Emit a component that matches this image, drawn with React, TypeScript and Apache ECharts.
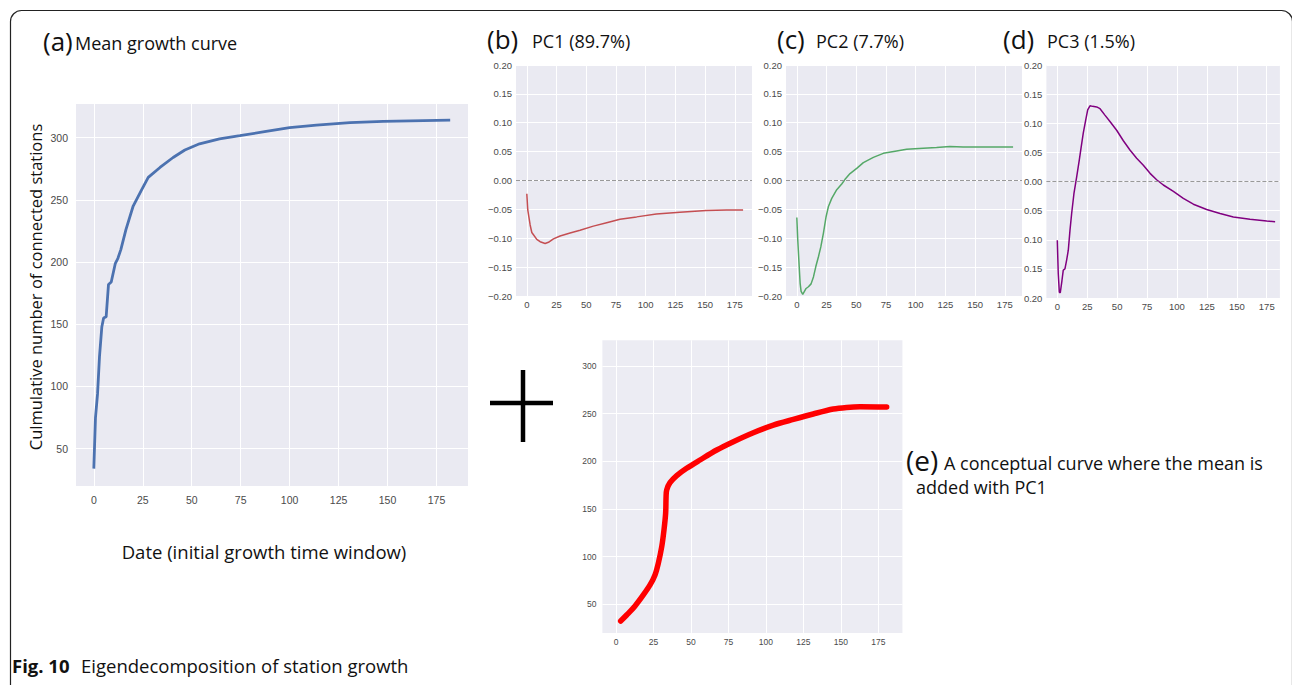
import React, { useEffect, useRef } from "react";
import * as echarts from "echarts";

// ---------- tick labels ----------
const TICK_X = [0, 25, 50, 75, 100, 125, 150, 175];
const TICK_COUNT = [50, 100, 150, 200, 250, 300];
const TICK_PC = [-0.2, -0.15, -0.1, -0.05, 0, 0.05, 0.1, 0.15, 0.2];

// ---------- (a) mean growth curve ----------
const meanX = [0, 0.85, 1.9, 2.9, 4.1, 5, 6.3, 7.5, 8.9, 11, 12.3, 13.8, 16.4, 20.1, 24.4, 27.8, 33.8, 40.5, 46.5, 54, 64.2, 74.6, 88, 100, 113.7, 130.8, 147.8, 182];
const meanY = [34, 75, 94, 124, 148, 155, 156, 182, 184, 199, 203, 210, 226, 245, 258, 268, 276, 284, 290, 295, 299, 301.5, 305, 308, 310, 312, 313, 314];

// ---------- (b) PC1 ----------
const pc1X = [0, 0.8, 2.8, 4.2, 5.6, 8.4, 11.2, 15.4, 18.2, 22.4, 28, 36.4, 44.8, 56, 67.2, 78.4, 92.4, 109, 128.8, 151, 168, 182];
const pc1Y = [-0.023, -0.051, -0.077, -0.09, -0.094, -0.102, -0.106, -0.109, -0.107, -0.101, -0.096, -0.091, -0.086, -0.079, -0.073, -0.067, -0.063, -0.058, -0.055, -0.052, -0.051, -0.051];

// ---------- (c) PC2 ----------
const pc2X = [0, 0.8, 2, 2.8, 3.6, 5, 6.4, 7.8, 9.8, 12, 14, 16, 18.2, 20.2, 22.4, 24.6, 26.6, 29.4, 33.6, 37.8, 40.6, 44.8, 50.4, 56, 64.4, 72.8, 84, 92.4, 106.4, 117.6, 128.8, 140, 156.8, 182];
const pc2Y = [-0.064, -0.103, -0.149, -0.178, -0.192, -0.197, -0.192, -0.187, -0.184, -0.179, -0.167, -0.149, -0.132, -0.115, -0.091, -0.063, -0.045, -0.031, -0.016, -0.006, 0.002, 0.012, 0.021, 0.031, 0.04, 0.047, 0.051, 0.054, 0.056, 0.057, 0.059, 0.058, 0.058, 0.058];

// ---------- (d) PC3 ----------
const pc3X = [0, 0.8, 1.7, 2.5, 3.9, 5, 6.4, 7.8, 9.2, 10.6, 12, 13.9, 16.2, 18.4, 19.8, 21.7, 23.7, 25.4, 27.3, 29.5, 32.9, 35.7, 39.8, 44, 49.6, 55.2, 60.7, 66.3, 71.9, 77.5, 83, 88.6, 97, 105.3, 113.7, 124.8, 136, 147.1, 161, 175, 182];
const pc3Y = [-0.101, -0.158, -0.19, -0.191, -0.17, -0.152, -0.15, -0.135, -0.118, -0.084, -0.055, -0.021, 0.008, 0.037, 0.057, 0.083, 0.105, 0.123, 0.13, 0.129, 0.128, 0.125, 0.114, 0.103, 0.088, 0.07, 0.054, 0.04, 0.028, 0.014, 0.003, -0.006, -0.017, -0.029, -0.039, -0.048, -0.055, -0.061, -0.065, -0.068, -0.069];

// ---------- (e) conceptual curve ----------
const conX = [3.1, 7.1, 12.7, 18.2, 22.7, 26, 28.2, 30.5, 32, 33.1, 33.4, 33.8, 36, 40.5, 47.1, 56, 67.2, 78.3, 91.6, 105, 118.3, 131.6, 145, 153.9, 162.8, 180.6];
const conY = [32.5, 38.8, 48.3, 59.8, 70.3, 80.8, 93, 110.5, 128, 145.5, 163, 170, 177.6, 185, 192.7, 201.4, 211.9, 220.6, 230, 238, 244, 249.7, 254.9, 256.6, 257.3, 257];

const zip = (xs: number[], ys: number[]) => xs.map((x, i) => [x, ys[i]]);

const BG = "#EAEAF2";
const LABEL_COLOR = "#4a4a4a";
const TICK_FONT = "Liberation Sans";
const HEAD_FONT = "Open Sans";

function xAxis(gridIndex: number, max: number, fontSize: number, margin: number) {
  return {
    type: "value",
    gridIndex,
    min: -9.1,
    max,
    axisLine: { show: false },
    axisTick: { show: false, customValues: TICK_X },
    axisLabel: { customValues: TICK_X, color: LABEL_COLOR, fontSize, margin, fontFamily: TICK_FONT },
    splitLine: { show: true, lineStyle: { color: "#fff", width: 1 } },
  };
}

function yAxis(gridIndex: number, min: number, max: number, ticks: number[], fontSize: number, margin: number, fmt: (v: number) => string) {
  return {
    type: "value",
    gridIndex,
    min,
    max,
    axisLine: { show: false },
    axisTick: { show: false, customValues: ticks },
    axisLabel: { customValues: ticks, color: LABEL_COLOR, fontSize, margin, fontFamily: TICK_FONT, formatter: fmt },
    splitLine: { show: true, lineStyle: { color: "#fff", width: 1 } },
  };
}

const pcFmt = (v: number) => (v < -1e-9 ? "\u2212" : "") + Math.abs(v).toFixed(2);
const pcFmtNoSign = (v: number) => Math.abs(v).toFixed(2);
const intFmt = (v: number) => String(Math.round(v));

const zeroLine = {
  silent: true,
  symbol: "none",
  label: { show: false },
  lineStyle: { color: "#999", type: "dashed", width: 1 },
  data: [{ yAxis: 0 }],
};

function text(x: number, y: number, t: string, size: number, extra: any = {}) {
  return {
    type: "text",
    x,
    y,
    rotation: extra.rotation || 0,
    style: {
      text: t,
      fill: "#111",
      fontSize: size,
      fontFamily: HEAD_FONT,
      fontWeight: extra.weight || "normal",
      textAlign: extra.align || "left",
      textVerticalAlign: "middle",
    },
  };
}

export default function App() {
  const ref = useRef<HTMLDivElement>(null);
  useEffect(() => {
    const chart = echarts.init(ref.current!, null, { renderer: "svg" });
    const gridBase = { show: true, backgroundColor: BG, borderWidth: 0, containLabel: false };
    chart.setOption({
      animation: false,
      backgroundColor: "#fff",
      grid: [
        { ...gridBase, left: 76, top: 104, width: 392, height: 382 },
        { ...gridBase, left: 516, top: 65, width: 236, height: 231 },
        { ...gridBase, left: 786, top: 65, width: 236, height: 231 },
        { ...gridBase, left: 1046.4, top: 65, width: 233.5, height: 233 },
        { ...gridBase, left: 602.4, top: 340.3, width: 300, height: 292.6, backgroundColor: "#ECECF3" },
      ],
      xAxis: [
        xAxis(0, 191.1, 10.5, 8),
        xAxis(1, 189.5, 9.5, 3),
        xAxis(2, 189.5, 9.5, 3),
        xAxis(3, 186, 9.5, 3),
        xAxis(4, 191.1, 8.5, 5),
      ],
      yAxis: [
        yAxis(0, 20, 327, TICK_COUNT, 10.5, 8, intFmt),
        yAxis(1, -0.2, 0.2, TICK_PC, 9.5, 4, pcFmt),
        yAxis(2, -0.2, 0.2, TICK_PC, 9.5, 4, pcFmt),
        yAxis(3, -0.2, 0.2, TICK_PC, 9.5, 4, pcFmtNoSign),
        yAxis(4, 20, 327, TICK_COUNT, 8.5, 6, intFmt),
      ],
      series: [
        { type: "line", xAxisIndex: 0, yAxisIndex: 0, data: zip(meanX, meanY), showSymbol: false, lineStyle: { color: "#4C72B0", width: 2.8 } },
        { type: "line", xAxisIndex: 1, yAxisIndex: 1, data: zip(pc1X, pc1Y), showSymbol: false, lineStyle: { color: "#C44E52", width: 1.5 }, markLine: zeroLine },
        { type: "line", xAxisIndex: 2, yAxisIndex: 2, data: zip(pc2X, pc2Y), showSymbol: false, lineStyle: { color: "#55A868", width: 1.5 }, markLine: zeroLine },
        { type: "line", xAxisIndex: 3, yAxisIndex: 3, data: zip(pc3X, pc3Y), showSymbol: false, lineStyle: { color: "#800080", width: 1.5 }, markLine: zeroLine },
        { type: "line", xAxisIndex: 4, yAxisIndex: 4, data: zip(conX, conY), showSymbol: false, smooth: 0.3, lineStyle: { color: "#FF0000", width: 5.5, cap: "round", join: "round" } },
      ],
      graphic: [
        { type: "rect", shape: { x: 10.5, y: 10.5, width: 1282, height: 700, r: 11 }, style: { fill: "none", stroke: "#222", lineWidth: 1.2 } },
        text(43, 41, "(a)", 26),
        text(75, 43, "Mean growth curve", 18),
        text(487, 39, "(b)", 26),
        text(532, 41, "PC1 (89.7%)", 18),
        text(777, 39, "(c)", 26),
        text(816, 41, "PC2 (7.7%)", 18),
        text(1003, 39, "(d)", 26),
        text(1047, 41, "PC3 (1.5%)", 18),
        text(35, 287, "Culmulative number of connected stations", 16.5, { rotation: Math.PI / 2, align: "center" }),
        text(264, 551, "Date (initial growth time window)", 18.5, { align: "center" }),
        { type: "line", shape: { x1: 490, y1: 403, x2: 553, y2: 403 }, style: { stroke: "#000", lineWidth: 4.5 } },
        { type: "line", shape: { x1: 523, y1: 370, x2: 523, y2: 442 }, style: { stroke: "#000", lineWidth: 4.5 } },
        text(906, 460, "(e)", 28),
        text(944, 463, "A conceptual curve where the mean is", 18),
        text(916, 487, "added with PC1", 18),
        text(12, 665, "Fig. 10", 18.5, { weight: "bold" }),
        text(81, 665, "Eigendecomposition of station growth", 18.5),
      ],
    });
    return () => chart.dispose();
  }, []);
  return (
    <div
      ref={ref}
      style={{ position: "absolute", left: 0, top: 0, width: 1292, height: 685, background: "#fff" }}
    />
  );
}
